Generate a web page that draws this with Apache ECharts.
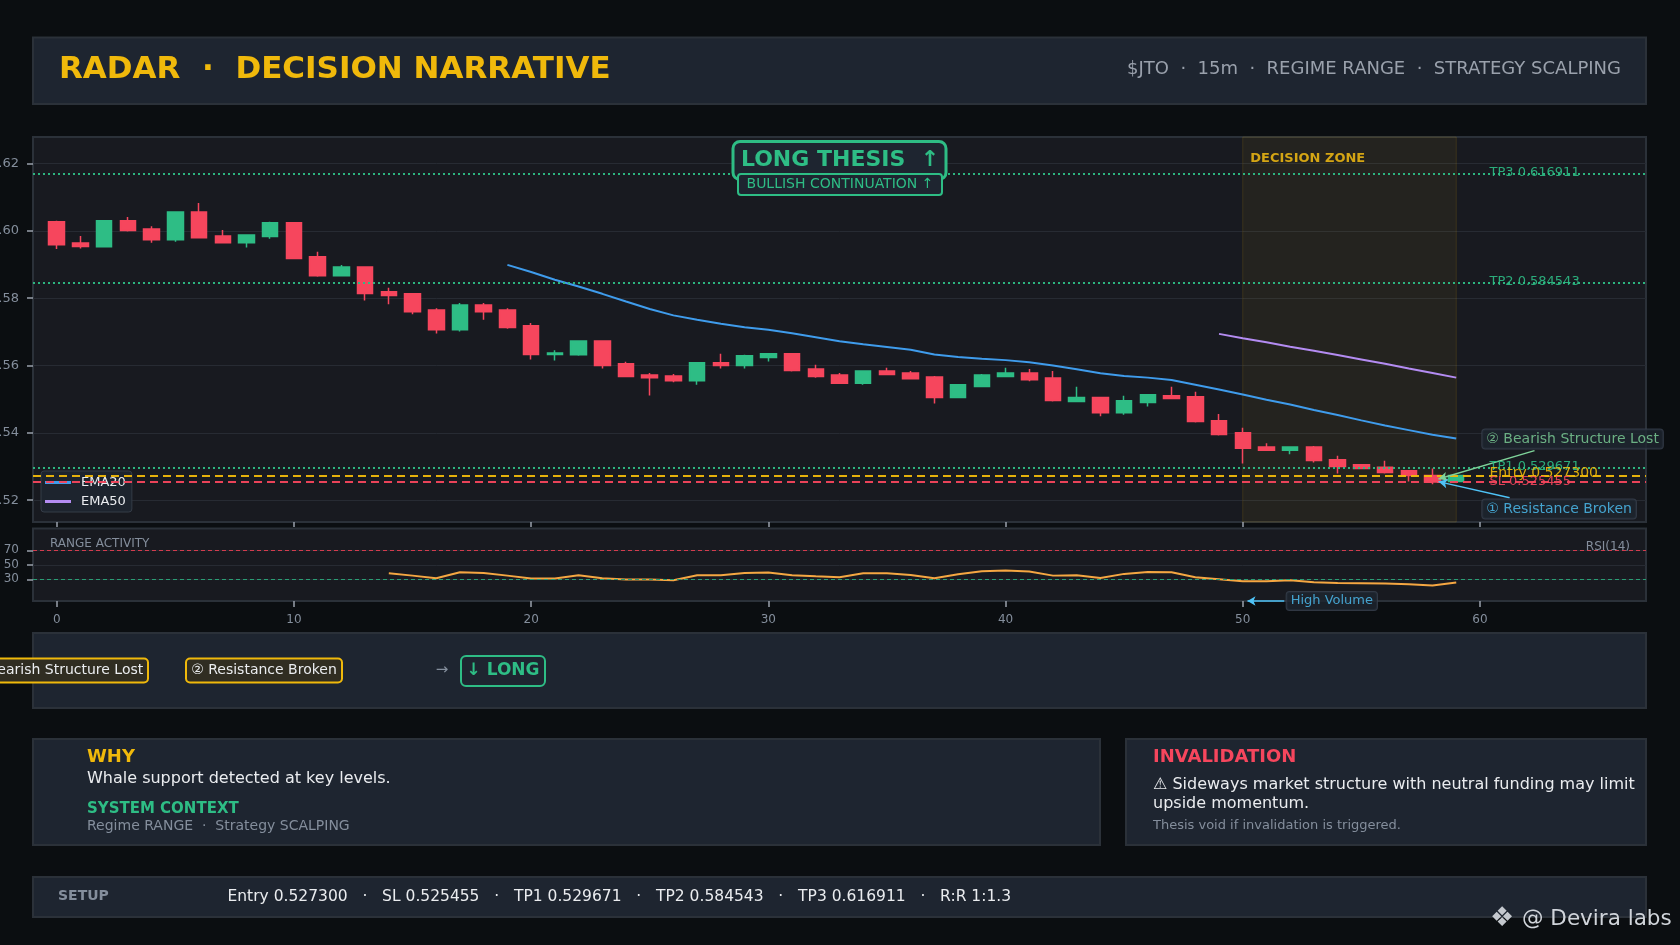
<!DOCTYPE html>
<html>
<head>
<meta charset="utf-8">
<script src="https://cdn.jsdelivr.net/npm/echarts@6/dist/echarts.min.js"></script>
<style>
html,body{margin:0;padding:0;background:#0b0e11;}
#chart{width:1680px;height:945px;}
</style>
</head>
<body>
<div id="chart"></div>
<script>
// ---------------- DATA ----------------
const candleOpen  = [0.6027,0.5964,0.5953,0.6030,0.6006,0.5974,0.6056,0.5985,0.5965,0.5983,
                     0.6024,0.5923,0.5867,0.5893,0.5819,0.5813,0.5765,0.5706,0.5780,0.5765,
                     0.5718,0.5633,0.5632,0.5673,0.5605,0.5572,0.5569,0.5555,0.5608,0.5600,
                     0.5624,0.5635,0.5590,0.5572,0.5547,0.5584,0.5578,0.5566,0.5505,0.5538,
                     0.5567,0.5578,0.5563,0.5493,0.5505,0.5460,0.5490,0.5510,0.5507,0.5436,
                     0.5400,0.5358,0.5348,0.5358,0.5320,0.5305,0.5298,0.5287,0.5273,0.5255];
const candleClose = [0.5959,0.5954,0.6030,0.6001,0.5974,0.6056,0.5980,0.5965,0.5988,0.6024,
                     0.5918,0.5867,0.5893,0.5814,0.5808,0.5760,0.5706,0.5780,0.5760,0.5713,
                     0.5633,0.5637,0.5673,0.5600,0.5567,0.5564,0.5555,0.5608,0.5600,0.5629,
                     0.5635,0.5585,0.5567,0.5547,0.5584,0.5573,0.5561,0.5505,0.5543,0.5572,
                     0.5578,0.5558,0.5496,0.5505,0.5460,0.5495,0.5513,0.5502,0.5434,0.5395,
                     0.5354,0.5348,0.5358,0.5318,0.5300,0.5294,0.5282,0.5273,0.5254,0.5273];
const candleLow   = [0.5946,0.5948,0.5952,0.5998,0.5965,0.5968,0.5980,0.5965,0.5951,0.5977,
                     0.5918,0.5864,0.5867,0.5793,0.5782,0.5752,0.5695,0.5701,0.5736,0.5709,
                     0.5618,0.5615,0.5629,0.5591,0.5567,0.5511,0.5550,0.5543,0.5591,0.5591,
                     0.5612,0.5582,0.5564,0.5547,0.5543,0.5573,0.5561,0.5487,0.5505,0.5538,
                     0.5567,0.5553,0.5493,0.5493,0.5449,0.5454,0.5478,0.5502,0.5431,0.5392,
                     0.5309,0.5348,0.5336,0.5312,0.5279,0.5294,0.5279,0.5255,0.5247,0.5255];
const candleHigh  = [0.6030,0.5985,0.6030,0.6041,0.6014,0.6056,0.6083,0.6003,0.5988,0.6027,
                     0.6024,0.5938,0.5899,0.5893,0.5831,0.5813,0.5770,0.5786,0.5786,0.5770,
                     0.5726,0.5645,0.5673,0.5673,0.5611,0.5578,0.5575,0.5608,0.5635,0.5632,
                     0.5635,0.5635,0.5602,0.5578,0.5584,0.5593,0.5584,0.5569,0.5543,0.5575,
                     0.5593,0.5590,0.5584,0.5537,0.5505,0.5510,0.5513,0.5537,0.5522,0.5456,
                     0.5415,0.5369,0.5358,0.5361,0.5332,0.5305,0.5317,0.5287,0.5294,0.5273];

const ema20Start = 19;
const ema20 = [0.5899,0.5878,0.5855,0.5835,0.5813,0.5790,0.5768,0.5749,0.5736,0.5724,
               0.5714,0.5706,0.5696,0.5684,0.5672,0.5663,0.5655,0.5647,0.5633,0.5625,
               0.5620,0.5616,0.5610,0.5600,0.5589,0.5577,0.5569,0.5564,0.5557,0.5543,
               0.5529,0.5514,0.5498,0.5484,0.5468,0.5453,0.5437,0.5422,0.5408,0.5394,0.5383];
const ema50Start = 49;
const ema50 = [0.5694,0.5681,0.5669,0.5656,0.5644,0.5631,0.5618,0.5605,0.5591,0.5578,0.5564];

const rsiStart = 14;
const rsi14 = [38.3,35.0,31.4,39.7,38.7,35.0,31.0,31.0,35.5,31.4,
               29.5,29.5,28.6,35.5,35.5,38.7,39.2,35.5,34.0,32.8,
               38.3,38.3,36.0,31.4,36.9,41.0,42.0,40.6,35.0,35.5,
               31.8,37.4,40.1,39.7,32.8,30.0,27.2,27.2,28.6,25.9,
               24.9,24.5,24.0,23.1,21.3,25.4];

const levelNames  = ['TP3','TP2','TP1','Entry','SL'];
const levelValues = [0.616911,0.584543,0.529671,0.527300,0.525455];

const decisionZone = [50,59];
const xTicks = [0,10,20,30,40,50,60];
const priceTicks = [0.52,0.54,0.56,0.58,0.60,0.62];
const rsiTicks = [30,50,70];
const rsiBands = [70,30];

// ---------------- STYLE ----------------
const FONT = 'DejaVu Sans';
const GREEN = '#2ebd85', RED = '#f6465d', YELLOW = '#f0b90b';
const CARD = '#1e2530', CHARTBG = '#181a20', BORDER = '#2b3139';
const GRAY = '#848e9c', WHITE = '#eaecef';

const candleData = candleOpen.map((o, i) => [i, o, candleClose[i], candleLow[i], candleHigh[i]]);
const ema20Data = ema20.map((v, k) => [ema20Start + k, v]);
const ema50Data = ema50.map((v, k) => [ema50Start + k, v]);
const rsiData = rsi14.map((v, k) => [rsiStart + k, v]);

function levelColor(n){ return n === 'Entry' ? YELLOW : (n === 'SL' ? RED : GREEN); }
function levelDash(n){ return n.startsWith('TP') ? [2,3] : [8,5]; }

const levelMarkLines = levelNames.map((n, i) => ({
  yAxis: levelValues[i],
  lineStyle: {color: levelColor(n), width: 2, type: levelDash(n), opacity: 0.95}
}));
const levelLabelData = levelNames.map((n, i) => ({
  name: n + ' ' + levelValues[i].toFixed(6),
  value: [60.4, levelValues[i]],
  label: {
    color: levelColor(n),
    fontSize: n === 'Entry' ? 14 : 13,
    offset: [0, n === 'SL' ? 0 : (n === 'Entry' ? -2 : -1)]
  }
}));

const chart = echarts.init(document.getElementById('chart'), null, {renderer: 'canvas'});

const txt = (x, y, text, o) => Object.assign({
  type: 'text', x: x, y: y, z: 10,
  style: Object.assign({text: text, fontFamily: FONT, verticalAlign: 'middle', align: 'left'}, o || {})
});
const panel = (x, y, w, h, fill) => ({
  type: 'rect', z: 0, shape: {x: x, y: y, width: w, height: h},
  style: {fill: fill || CARD, stroke: BORDER, lineWidth: 2}
});
const tickStyle = {color: '#9aa1ac', width: 1.5};

const option = {
  backgroundColor: '#0b0e11',
  animation: false,
  textStyle: {fontFamily: FONT},
  grid: [
    {left: 33, top: 137, width: 1613, height: 385, show: true, backgroundColor: CHARTBG, borderColor: BORDER, borderWidth: 2,
     containLabel: false, outerBoundsMode: 'none'},
    {left: 33, top: 528.5, width: 1613, height: 72.5, show: true, backgroundColor: CHARTBG, borderColor: BORDER, borderWidth: 2,
     containLabel: false, outerBoundsMode: 'none'}
  ],
  legend: {
    data: ['EMA20', 'EMA50'],
    orient: 'vertical', left: 41, top: 471,
    padding: [5, 6, 4, 4], itemGap: 6,
    icon: 'rect', itemWidth: 26, itemHeight: 3,
    backgroundColor: 'rgba(30,37,48,0.88)', borderColor: '#353c47', borderWidth: 1, borderRadius: 3,
    textStyle: {color: WHITE, fontSize: 13, fontFamily: FONT, padding: [0, 0, 0, 5]}
  },
  xAxis: [
    {type: 'value', gridIndex: 0, min: -1, max: 67,
     axisLine: {show: false, onZero: false},
     axisTick: {show: true, customValues: xTicks, length: 5, lineStyle: tickStyle},
     axisLabel: {show: false},
     splitLine: {show: false}},
    {type: 'value', gridIndex: 1, min: -1, max: 67,
     axisLine: {show: false, onZero: false},
     axisTick: {show: true, customValues: xTicks, length: 6, lineStyle: tickStyle},
     axisLabel: {show: true, customValues: xTicks, color: GRAY, fontSize: 12, margin: 13, fontFamily: FONT},
     splitLine: {show: false}}
  ],
  yAxis: [
    {type: 'value', gridIndex: 0, min: 0.5135, max: 0.6279,
     axisLine: {show: false, onZero: false},
     axisTick: {show: true, customValues: priceTicks, length: 6, lineStyle: tickStyle},
     axisLabel: {show: true, customValues: priceTicks, color: GRAY, fontSize: 13, margin: 14, fontFamily: FONT,
                 formatter: v => v.toFixed(2)},
     splitLine: {show: true, lineStyle: {color: '#272b33', width: 1}}},
    {type: 'value', gridIndex: 1, min: 0, max: 100,
     axisLine: {show: false, onZero: false},
     axisTick: {show: true, customValues: rsiTicks, length: 6, lineStyle: tickStyle},
     axisLabel: {show: true, customValues: rsiTicks, color: GRAY, fontSize: 12, margin: 14, fontFamily: FONT},
     splitLine: {show: true, lineStyle: {color: '#272b33', width: 1}}}
  ],
  series: [
    {
      name: 'Price', type: 'candlestick', xAxisIndex: 0, yAxisIndex: 0,
      data: candleData, encode: {x: 0, y: [1, 2, 3, 4]},
      barWidth: 16,
      itemStyle: {color: GREEN, color0: RED, borderColor: GREEN, borderColor0: RED, borderWidth: 1.5},
      markArea: {
        silent: true,
        itemStyle: {color: 'rgba(240,185,11,0.06)', borderColor: 'rgba(240,185,11,0.14)', borderWidth: 1},
        label: {show: true, position: 'insideTopLeft', distance: 5, offset: [3, 11], color: '#d4a514',
                fontSize: 13, fontWeight: 'bold', fontFamily: FONT},
        data: [[{name: 'DECISION ZONE', xAxis: decisionZone[0]}, {xAxis: decisionZone[1]}]]
      },
      markLine: {
        silent: true, precision: 6, symbol: ['none', 'none'], label: {show: false},
        data: levelMarkLines
      }
    },
    {name: 'EMA20', type: 'line', xAxisIndex: 0, yAxisIndex: 0, data: ema20Data,
     showSymbol: false, color: '#3f9cec', lineStyle: {width: 2, color: '#3f9cec'}, z: 3},
    {name: 'EMA50', type: 'line', xAxisIndex: 0, yAxisIndex: 0, data: ema50Data,
     showSymbol: false, color: '#b48cf2', lineStyle: {width: 2, color: '#b48cf2'}, z: 3},
    {name: 'levels', type: 'scatter', xAxisIndex: 0, yAxisIndex: 0, symbolSize: 0, silent: true, z: 6,
     data: levelLabelData,
     label: {show: true, position: 'right', distance: 0, formatter: '{b}', fontFamily: FONT, opacity: 0.9}},
    {name: 'notes', type: 'scatter', xAxisIndex: 0, yAxisIndex: 0, symbolSize: 0, silent: true, z: 8,
     data: [
       {name: '② Bearish Structure Lost', value: [60.1, 0.5382], label: {color: '#7fd39a'}},
       {name: '① Resistance Broken', value: [60.1, 0.5174], label: {color: '#4fc3f7'}}
     ],
     label: {show: true, position: 'right', distance: 0, formatter: '{b}', fontSize: 14, fontFamily: FONT,
             backgroundColor: CARD, borderColor: '#3a4250', borderWidth: 1, borderRadius: 3, padding: [3, 4, 2, 4]},
     markLine: {
       silent: true, precision: 6, symbol: ['none', 'arrow'], symbolSize: [7, 9], label: {show: false},
       data: [
         [{coord: [62.3, 0.5347], lineStyle: {color: '#7fd39a', width: 1.5, type: 'solid'}}, {coord: [58.25, 0.5263]}],
         [{coord: [61.25, 0.5207], lineStyle: {color: '#4fc3f7', width: 1.5, type: 'solid'}}, {coord: [58.25, 0.5255]}]
       ]
     }},
    {name: 'RSI(14)', type: 'line', xAxisIndex: 1, yAxisIndex: 1, data: rsiData,
     showSymbol: false, color: '#f5a742', lineStyle: {width: 2, color: '#f5a742'},
     markLine: {
       silent: true, symbol: ['none', 'none'], label: {show: false},
       data: rsiBands.map(v => ({yAxis: v, lineStyle: {color: v > 50 ? '#d23c4e' : '#2a9d74', width: 1, type: [4, 3]}}))
     }},
    {name: 'rsiNotes', type: 'scatter', xAxisIndex: 1, yAxisIndex: 1, symbolSize: 0, silent: true, clip: false, z: 8,
     data: [{name: 'High Volume', value: [51.85, 0]}],
     label: {show: true, position: 'right', distance: 0, formatter: '{b}', fontSize: 13, fontFamily: FONT, color: '#4fc3f7',
             backgroundColor: CARD, borderColor: '#3a4250', borderWidth: 1, borderRadius: 3, padding: [3, 4, 2, 4]},
     markLine: {
       silent: true, precision: 4, symbol: ['none', 'arrow'], symbolSize: [7, 8], label: {show: false},
       data: [[{coord: [51.75, 0], lineStyle: {color: '#4fc3f7', width: 1.5, type: 'solid'}}, {coord: [50.2, 0]}]]
     }}
  ],
  graphic: [
    panel(33, 37.5, 1613, 66.5),
    txt(59, 70, 'RADAR  ·  DECISION NARRATIVE', {fill: YELLOW, fontSize: 31, fontWeight: 'bold'}),
    txt(1621, 69.5, '$JTO  ·  15m  ·  REGIME RANGE  ·  STRATEGY SCALPING', {fill: '#9aa1ac', fontSize: 18, align: 'right'}),
    {type: 'rect', z: 50, shape: {x: 733, y: 141.5, width: 213, height: 38, r: 7},
     style: {fill: CARD, stroke: GREEN, lineWidth: 3}},
    Object.assign(txt(840, 160, 'LONG THESIS  ↑', {fill: GREEN, fontSize: 22, fontWeight: 'bold', align: 'center'}), {z: 51}),
    {type: 'rect', z: 52, shape: {x: 738, y: 174, width: 204, height: 21, r: 3},
     style: {fill: CARD, stroke: GREEN, lineWidth: 2}},
    Object.assign(txt(840, 184.5, 'BULLISH CONTINUATION ↑', {fill: GREEN, fontSize: 14, align: 'center'}), {z: 53}),
    Object.assign(txt(50, 544, 'RANGE ACTIVITY', {fill: GRAY, fontSize: 12}), {z: 20}),
    Object.assign(txt(1630, 547, 'RSI(14)', {fill: GRAY, fontSize: 12, align: 'right'}), {z: 20}),
    panel(33, 633, 1613, 75),
    {type: 'rect', z: 5, shape: {x: -34, y: 658.5, width: 182, height: 24, r: 4},
     style: {fill: '#302d22', stroke: YELLOW, lineWidth: 2}},
    txt(57, 670.5, '② Bearish Structure Lost', {fill: WHITE, fontSize: 14, align: 'center'}),
    {type: 'rect', z: 5, shape: {x: 186, y: 658.5, width: 156, height: 24, r: 4},
     style: {fill: '#302d22', stroke: YELLOW, lineWidth: 2}},
    txt(264, 670.5, '② Resistance Broken', {fill: WHITE, fontSize: 14, align: 'center'}),
    txt(442, 670.5, '→', {fill: GRAY, fontSize: 15, align: 'center'}),
    {type: 'rect', z: 5, shape: {x: 461, y: 656, width: 84, height: 30, r: 5},
     style: {fill: CARD, stroke: GREEN, lineWidth: 2}},
    txt(503, 671, '↓ LONG', {fill: GREEN, fontSize: 17, fontWeight: 'bold', align: 'center'}),
    panel(33, 739, 1067, 106),
    txt(87, 757, 'WHY', {fill: YELLOW, fontSize: 18, fontWeight: 'bold'}),
    txt(87, 779, 'Whale support detected at key levels.', {fill: WHITE, fontSize: 16}),
    txt(87, 809, 'SYSTEM CONTEXT', {fill: GREEN, fontSize: 15, fontWeight: 'bold'}),
    txt(87, 826.5, 'Regime RANGE  ·  Strategy SCALPING', {fill: GRAY, fontSize: 14}),
    panel(1126, 739, 520, 106),
    txt(1153, 757, 'INVALIDATION', {fill: RED, fontSize: 18, fontWeight: 'bold'}),
    txt(1153, 785, '⚠ Sideways market structure with neutral funding may limit', {fill: WHITE, fontSize: 16}),
    txt(1153, 804, 'upside momentum.', {fill: WHITE, fontSize: 16}),
    txt(1153, 826, 'Thesis void if invalidation is triggered.', {fill: GRAY, fontSize: 13}),
    panel(33, 877, 1613, 40),
    txt(58, 896.5, 'SETUP', {fill: GRAY, fontSize: 14, fontWeight: 'bold'}),
    txt(227.5, 896.5, 'Entry 0.527300   ·   SL 0.525455   ·   TP1 0.529671   ·   TP2 0.584543   ·   TP3 0.616911   ·   R:R 1:1.3', {fill: WHITE, fontSize: 15.5}),
    Object.assign(txt(1502, 919, '❖', {fill: '#c4c8ce', fontSize: 27, align: 'center'}), {z: 60}),
    Object.assign(txt(1522, 919, '@ Devira labs', {fill: '#d0d4da', fontSize: 21.5}), {z: 60})
  ]
};
chart.setOption(option);
</script>
</body>
</html>
